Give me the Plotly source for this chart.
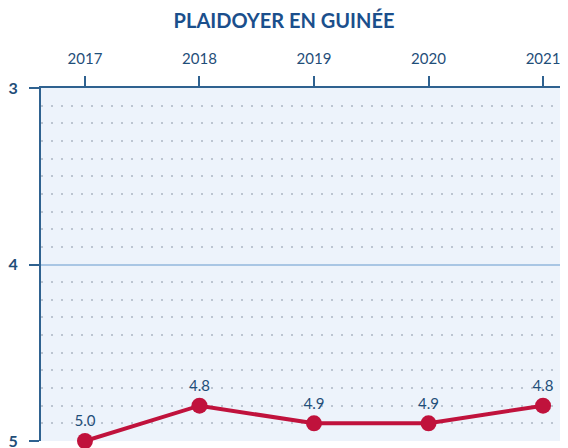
import plotly.graph_objects as go

years = [2017, 2018, 2019, 2020, 2021]
values = [5.0, 4.8, 4.9, 4.9, 4.8]
labels = ["5.0", "4.8", "4.9", "4.9", "4.8"]
y_ticks = [3, 4, 5]

DARK = "#1f4e79"
LINE = "#c0123c"
FONT = "Lato, sans-serif"

# the page body has an 8px margin, so the figure is sized/placed to compensate
fig = go.Figure()
fig.add_trace(go.Scatter(
    x=years, y=values, mode="lines+markers+text",
    text=labels, textposition="top center",
    textfont=dict(family=FONT, size=15, color=DARK),
    line=dict(color=LINE, width=4),
    marker=dict(color=LINE, size=16),
    cliponaxis=False, showlegend=False, hoverinfo="skip",
))

fig.update_layout(
    width=560, height=440,
    margin=dict(l=33, r=0, t=80, b=7),
    paper_bgcolor="white", plot_bgcolor="#edf3fb",
    title=dict(text="<b>PLAIDOYER EN GUINÉE</b>", x=276 / 560, xanchor="center",
               y=1 - 13 / 440, yanchor="middle",
               font=dict(family=FONT, size=20, color="#1b4f8c")),
)
fig.update_xaxes(
    side="top", range=[2016.616, 2021.218], tickvals=years,
    ticktext=[str(y) for y in years],
    tickfont=dict(family=FONT, size=15, color=DARK),
    ticks="outside", ticklen=10, tickwidth=2, tickcolor="#2f6290",
    ticklabelstandoff=6,
    showline=True, linecolor="#2f6290", linewidth=2,
    showgrid=False, zeroline=False, automargin=False,
)
fig.update_yaxes(
    range=[5, 3], tickvals=y_ticks, ticktext=[f"<b>{v}</b>" for v in y_ticks],
    tickfont=dict(family=FONT, size=16, color=DARK),
    ticks="outside", ticklen=10, tickwidth=2, tickcolor="#2f6290",
    ticklabelstandoff=8, ticklabeloverflow="allow",
    showline=True, linecolor="#2f6290", linewidth=2,
    showgrid=True, gridcolor="#a9c6e4", gridwidth=2, zeroline=False,
    automargin=False,
    minor=dict(dtick=0.1, showgrid=True, gridcolor="#bcc5d1", gridwidth=1.5,
               griddash="2px,8px"),
)

fig.write_html("out.html")
